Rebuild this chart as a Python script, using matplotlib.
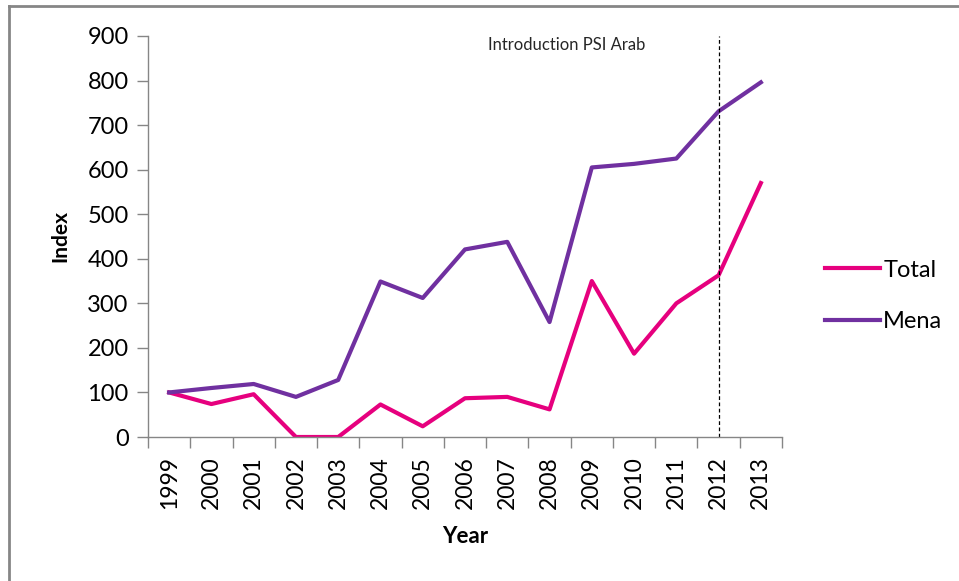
import numpy as np
import matplotlib.pyplot as plt
from matplotlib.lines import Line2D

# Data
years = ['1999', '2000', '2001', '2002', '2003', '2004', '2005', '2006',
         '2007', '2008', '2009', '2010', '2011', '2012', '2013']
total = [100, 74, 96, 0, 0, 73, 24, 87, 90, 62, 350, 187, 300, 363, 570]
mena = [100, 110, 119, 90, 128, 349, 312, 421, 438, 258, 605, 613, 625, 731, 796]
intro_year = '2012'

plt.rcParams['font.family'] = ['Lato', 'DejaVu Sans']

fig = plt.figure(figsize=(9.59, 5.81), dpi=100)
ax = fig.add_axes([148 / 959, 1 - 437 / 581, (782 - 148) / 959, (437 - 36) / 581])

x = np.arange(len(years))
ax.plot(x, total, color='#E6007E', lw=3, label='Total', solid_joinstyle='round')
ax.plot(x, mena, color='#7030A0', lw=3, label='Mena', solid_joinstyle='round')

# Introduction line
xi = years.index(intro_year)
ax.axvline(xi, color='black', lw=0.9, ls=(0, (3, 2)))
ax.text(xi - 5.45, 880, 'Introduction PSI Arab', fontsize=12, color='#262626',
        ha='left', va='center')

ax.set_xlim(-0.5, len(years) - 0.5)
ax.set_ylim(0, 900)
ax.set_yticks(range(0, 901, 100))

# Category boundaries as tick marks, labels at centres
ax.set_xticks(np.arange(-0.5, len(years), 1))
ax.set_xticklabels([])
ax.set_xticks(x, minor=True)
ax.set_xticklabels(years, minor=True, rotation=90, fontsize=16.5)
ax.tick_params(axis='x', which='major', length=8, color='#868686', width=1)
ax.tick_params(axis='x', which='minor', length=0, pad=14)
ax.tick_params(axis='y', length=8, color='#868686', width=1, labelsize=17, pad=6)

for s in ['top', 'right']:
    ax.spines[s].set_visible(False)
for s in ['left', 'bottom']:
    ax.spines[s].set_color('#868686')
    ax.spines[s].set_linewidth(1)

ax.set_ylabel('Index', fontsize=15, fontweight='bold', labelpad=12)
ax.set_xlabel('Year', fontsize=16, fontweight='bold', labelpad=12)

leg = ax.legend(loc='center left', bbox_to_anchor=(1.035, 0.352), frameon=False,
                fontsize=17, handlelength=2.3, handletextpad=0.15, labelspacing=1.3)

# Outer chart frame (only left and top edges visible)
fig.add_artist(Line2D([9 / 959, 9 / 959], [0, 1 - 6 / 581], color='#868686', lw=2))
fig.add_artist(Line2D([9 / 959, 1], [1 - 6 / 581, 1 - 6 / 581], color='#868686', lw=2))

fig.savefig('out.png', dpi=100)
